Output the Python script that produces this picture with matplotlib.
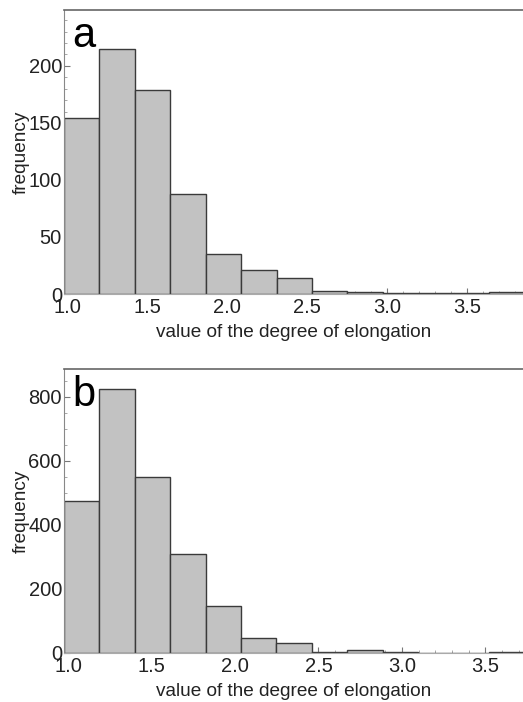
import numpy as np
import matplotlib.pyplot as plt
from matplotlib.ticker import MultipleLocator

plt.rcParams['font.family'] = ['Liberation Sans', 'DejaVu Sans']

# panel a: histogram of elongation values
start_a = 0.981
width_a = 0.2215
counts_a = [154, 215, 179, 88, 35, 21, 14, 3, 2, 1, 1, 1, 2]

# panel b
start_b = 0.976
width_b = 0.212
counts_b = [474, 826, 549, 310, 147, 46, 30, 3, 10, 3, 0, 0, 3]

xticks = [1.0, 1.5, 2.0, 2.5, 3.0, 3.5]


def draw_panel(ax, start, width, counts, xmax, ymax, ymaj, ymin, letter):
    n = len(counts)
    lefts = start + width * np.arange(n)
    ax.bar(lefts, counts, width=width, align='edge', color='#c2c2c2',
           edgecolor='#3a3a3a', linewidth=1.0, zorder=2)
    ax.set_xlim(start, xmax)
    ax.set_ylim(0, ymax)
    ax.set_xticks(xticks)
    ax.set_xticklabels(['%.1f' % t for t in xticks])
    ax.xaxis.set_minor_locator(MultipleLocator(0.1))
    ax.yaxis.set_major_locator(MultipleLocator(ymaj))
    ax.yaxis.set_minor_locator(MultipleLocator(ymin))
    ax.tick_params(which='major', direction='in', length=4, width=0.8,
                   color='#777777', labelsize=14.5, labelcolor='#222222')
    ax.tick_params(axis='x', which='major', pad=3)
    ax.tick_params(axis='y', which='major', pad=1.5)
    ax.tick_params(which='minor', direction='in', length=2, width=0.6,
                   color='#999999')
    ax.spines['right'].set_visible(False)
    ax.spines['left'].set_color('#888888')
    ax.spines['top'].set_color('#666666')
    ax.spines['bottom'].set_color('#aaaaaa')
    ax.spines['top'].set_linewidth(1.2)
    ax.set_xlabel('value of the degree of elongation', fontsize=13.7,
                  labelpad=5, color='#222222')
    ax.set_ylabel('frequency', fontsize=13.7, labelpad=-1, color='#222222')
    ax.text(0.018, 0.87, letter, transform=ax.transAxes, fontsize=30,
            va='baseline', ha='left')


fig = plt.figure(figsize=(5.23, 7.02), dpi=100)
H = 702.0
W = 523.0
ax_a = fig.add_axes([64 / W, 1 - 294 / H, 1 - 64 / W, (294 - 10) / H])
ax_b = fig.add_axes([64 / W, 1 - 653 / H, 1 - 64 / W, (653 - 369) / H])

draw_panel(ax_a, start_a, width_a, counts_a, 3.85, 249, 50, 10, 'a')
draw_panel(ax_b, start_b, width_b, counts_b, 3.725, 887, 200, 50, 'b')

fig.savefig('out.png', dpi=100)
